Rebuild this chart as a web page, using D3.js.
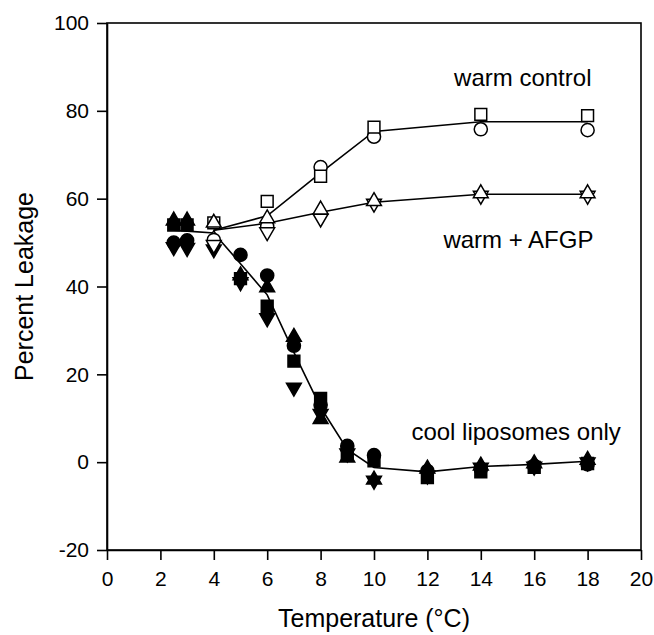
<!DOCTYPE html>
<html>
<head>
<meta charset="utf-8">
<script src="https://cdn.jsdelivr.net/npm/d3@7"></script>
<style>
  body { margin: 0; background: #fff; }
  svg { display: block; font-family: "Liberation Sans", Arial, sans-serif; }
</style>
</head>
<body>
<svg id="chart" width="654" height="635"></svg>
<script>
// cool liposomes only (filled symbols)
const coolTemps   = [2.5, 3, 4, 5, 6, 7, 8, 9, 10, 12, 14, 16, 18];
const coolMean    = [52.8, 52.6, 52.2, 45.2, 38.1, 25.0, 12.5, 2.9, -1.2, -2.2, -1.0, -0.5, 0.2];
const coolCircle  = [50.0, 50.5, null, 47.2, 42.5, 26.5, 13.0, 3.7, 1.6, -2.0, -1.5, -0.8, -0.5];
const coolSquare  = [54.0, 54.0, null, 41.8, 35.5, 23.0, 14.5, 2.0, 0.3, -3.5, -2.2, -1.2, -0.3];
const coolUp      = [55.0, 55.0, null, 42.5, 39.8, 28.5, 9.8, 1.0, -4.0, -1.5, -0.8, -0.3, 0.5];
const coolDown    = [49.0, 48.8, 48.5, 41.0, 32.8, 17.0, 11.0, 2.0, -4.2, -3.0, -1.2, -1.0, 0.0];

// warm control and warm + AFGP (open symbols)
const warmTemps   = [4, 6, 8, 10, 14, 18];
const warmMean    = [52.8, 56.1, 65.9, 75.3, 77.5, 77.5];
const warmSquare  = [54.5, 59.4, 65.1, 76.3, 79.2, 78.9];
const warmCircle  = [50.6, 53.7, 67.2, 74.1, 75.8, 75.6];
const afgpMean    = [52.8, 54.4, 56.9, 59.2, 61.0, 61.0];
const afgpUp      = [54.5, 55.5, 57.5, 59.4, 61.2, 61.2];
const afgpDown    = [49.5, 52.4, 55.5, 58.9, 60.7, 60.7];
const afgpDiamond = [50.5, 54.0, 56.5, null, null, null];

const xTicks = [0, 2, 4, 6, 8, 10, 12, 14, 16, 18, 20];
const yTicks = [-20, 0, 20, 40, 60, 80, 100];

const svg = d3.select('#chart');
const margin = {top: 23, left: 107, right: 13, bottom: 85};
const width = 654 - margin.left - margin.right;
const height = 635 - margin.top - margin.bottom;

const x = d3.scaleLinear().domain([0, 20]).range([0, width]);
const y = d3.scaleLinear().domain([-20, 100]).range([height, 0]);

const g = svg.append('g').attr('transform', `translate(${margin.left},${margin.top})`);

// axes
const xAxis = g.append('g')
    .attr('transform', `translate(0,${height})`)
    .call(d3.axisBottom(x).tickValues(xTicks).tickFormat(d => String(d))
        .tickSize(10).tickSizeOuter(0).tickPadding(11));
const yAxis = g.append('g')
    .call(d3.axisLeft(y).tickValues(yTicks).tickFormat(d => String(d))
        .tickSize(10).tickSizeOuter(0).tickPadding(8));

[xAxis, yAxis].forEach(a => {
    a.selectAll('path, line').attr('stroke', '#000').attr('stroke-width', 1.6);
    a.selectAll('text').attr('fill', '#000').style('font-size', '21px');
});

// top and right border
g.append('rect')
    .attr('width', width)
    .attr('height', height)
    .attr('fill', 'none')
    .attr('stroke', '#000')
    .attr('stroke-width', 1.6);

// lines
const line = d3.line().defined(d => d[1] != null).x(d => x(d[0])).y(d => y(d[1]));
const lines = [
    d3.zip(coolTemps, coolMean),
    d3.zip(warmTemps, warmMean),
    d3.zip(warmTemps, afgpMean)
];
g.selectAll('.series-line').data(lines).join('path')
    .attr('class', 'series-line')
    .attr('d', line)
    .attr('fill', 'none')
    .attr('stroke', '#000')
    .attr('stroke-width', 1.6);

// markers
const shapes = {
    circle: {type: d3.symbolCircle, size: 135, rot: 0},
    square: {type: d3.symbolSquare, size: 140, rot: 0},
    up: {type: d3.symbolTriangle, size: 95, rot: 0},
    down: {type: d3.symbolTriangle, size: 95, rot: 180},
    diamond: {type: d3.symbolDiamond, size: 110, rot: 0}
};

function drawSeries(temps, values, shape, filled) {
    const s = shapes[shape];
    const pts = d3.zip(temps, values).filter(d => d[1] != null);
    g.append('g').selectAll('path').data(pts).join('path')
        .attr('d', d3.symbol().type(s.type).size(s.size))
        .attr('transform', d => `translate(${x(d[0])},${y(d[1])}) rotate(${s.rot})`)
        .attr('fill', filled ? '#000' : '#fff')
        .attr('stroke', '#000')
        .attr('stroke-width', 1.5);
}

drawSeries(coolTemps, coolDown, 'down', true);
drawSeries(coolTemps, coolSquare, 'square', true);
drawSeries(coolTemps, coolUp, 'up', true);
drawSeries(coolTemps, coolCircle, 'circle', true);

drawSeries(warmTemps, afgpDiamond, 'diamond', false);
drawSeries(warmTemps, warmCircle, 'circle', false);
drawSeries(warmTemps, warmSquare, 'square', false);
drawSeries(warmTemps, afgpDown, 'down', false);
drawSeries(warmTemps, afgpUp, 'up', false);

// annotations
const notes = [
    {text: 'warm control', t: 13.0, v: 85.7},
    {text: 'warm + AFGP', t: 12.6, v: 48.8},
    {text: 'cool liposomes only', t: 11.4, v: 5.0}
];
g.selectAll('.note').data(notes).join('text')
    .attr('class', 'note')
    .attr('x', d => x(d.t))
    .attr('y', d => y(d.v))
    .style('font-size', '24px')
    .attr('fill', '#000')
    .text(d => d.text);

// axis titles
svg.append('text')
    .attr('x', margin.left + width / 2)
    .attr('y', 627)
    .attr('text-anchor', 'middle')
    .style('font-size', '25px')
    .text('Temperature (°C)');

svg.append('text')
    .attr('transform', `translate(33,${margin.top + height / 2}) rotate(-90)`)
    .attr('text-anchor', 'middle')
    .style('font-size', '25px')
    .text('Percent Leakage');
</script>
</body>
</html>
